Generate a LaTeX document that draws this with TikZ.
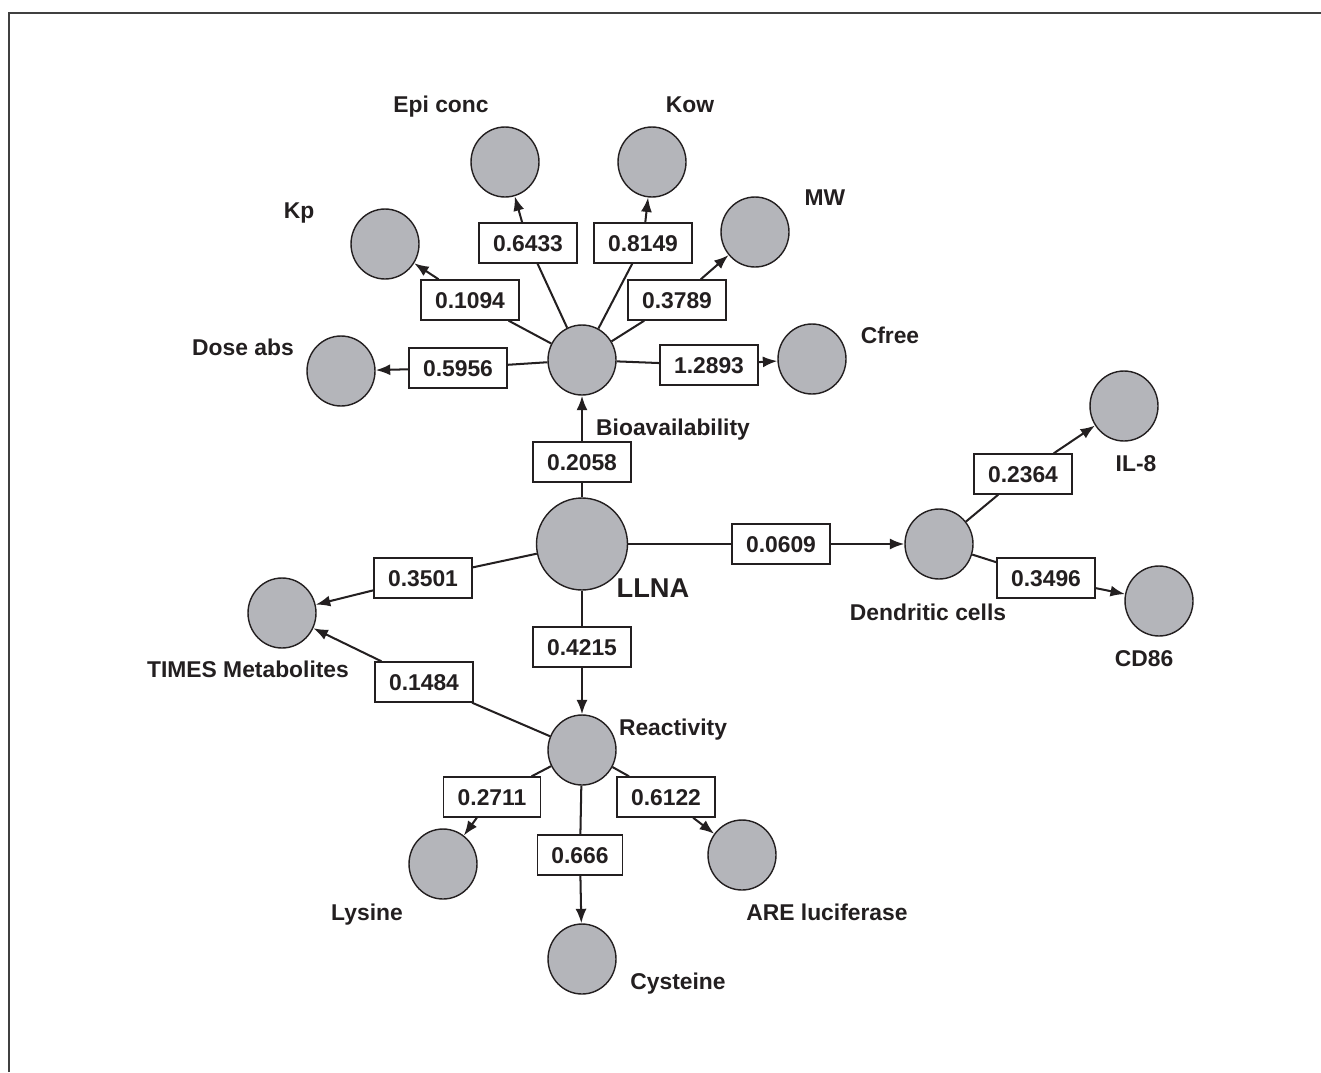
\documentclass[tikz,border=0pt]{standalone}
\usepackage{fontspec}
\setmainfont{Liberation Sans}
\usepackage{tikz}
\usetikzlibrary{arrows.meta, shapes.geometric}
\definecolor{nodegray}{RGB}{180,181,186}
\definecolor{ink}{RGB}{35,31,32}
\tikzset{
        x=0.02cm, y=-0.02cm, % one unit = one pixel of the layout
        every node/.append style={text=ink},
    }
\tikzstyle{vertex}=[draw=ink,fill=nodegray,ellipse,line width=0.8pt,minimum width=1.36cm,minimum height=1.40cm,inner sep=0pt]
\tikzstyle{hub}=[vertex,minimum width=1.82cm,minimum height=1.84cm]
\tikzstyle{weight}=[draw=ink,fill=white,line width=0.8pt,minimum height=0.8cm,inner xsep=0.28cm,inner ysep=0pt,text height=9.3pt,text depth=0pt,font=\fontsize{13}{15}\selectfont\bfseries]
\tikzstyle{caption}=[inner sep=0pt,text height=9.3pt,text depth=0pt,font=\fontsize{13}{15}\selectfont\bfseries]
\tikzstyle{link}=[draw=ink,line width=1.15pt]
\tikzstyle{flow}=[link,-{Latex[length=0.29cm,width=0.22cm]}]

\begin{document}
\begin{tikzpicture}
    \useasboundingbox (0,0) rectangle (1321,1072);
    \draw[line width=1.2pt, draw=black!75] (9,1072) -- (9,13) -- (1321,13);

    % variables
    \node[vertex] (epi)   at (505,162) {};
    \node[vertex] (kow)   at (652,162) {};
    \node[vertex] (kp)    at (385,244) {};
    \node[vertex] (mw)    at (755,232) {};
    \node[vertex] (dose)  at (341,371) {};
    \node[vertex] (bio)   at (582,360) {};
    \node[vertex] (cfree) at (812,359) {};
    \node[hub]    (llna)  at (582,544) {};
    \node[vertex] (times) at (282,613) {};
    \node[vertex] (dc)    at (939,544) {};
    \node[vertex] (il8)   at (1124,406) {};
    \node[vertex] (cd86)  at (1159,601) {};
    \node[vertex] (react) at (582,750) {};
    \node[vertex] (lys)   at (443,864) {};
    \node[vertex] (cys)   at (582,959) {};
    \node[vertex] (are)   at (742,855) {};

    % names
    \node[caption] (l-epi)   at (441,104)  {Epi conc};
    \node[caption] (l-kow)   at (690,104)  {Kow};
    \node[caption] (l-kp)    at (299,210)  {Kp};
    \node[caption] (l-mw)    at (825,197)  {MW};
    \node[caption] (l-dose)  at (243,347)  {Dose abs};
    \node[caption] (l-cfree) at (890,335)  {Cfree};
    \node[caption] (l-bio)   at (673,427)  {Bioavailability};
    \node[caption,text height=11.1pt,font=\fontsize{15.5}{18}\selectfont\bfseries] (l-llna) at (653,588) {LLNA};
    \node[caption] (l-times) at (248,669)  {TIMES Metabolites};
    \node[caption] (l-dc)    at (928,612)  {Dendritic cells};
    \node[caption] (l-il8)   at (1136,463) {IL-8};
    \node[caption] (l-cd86)  at (1144,658) {CD86};
    \node[caption] (l-react) at (673,727)  {Reactivity};
    \node[caption] (l-lys)   at (367,912)  {Lysine};
    \node[caption] (l-cys)   at (678,981)  {Cysteine};
    \node[caption] (l-are)   at (827,912)  {ARE luciferase};

    % path coefficients
    \node[weight] (w-epi)   at (528,243)  {0.6433};
    \node[weight] (w-kow)   at (643,243)  {0.8149};
    \node[weight] (w-kp)    at (470,300)  {0.1094};
    \node[weight] (w-mw)    at (677,300)  {0.3789};
    \node[weight] (w-dose)  at (458,368)  {0.5956};
    \node[weight] (w-cfree) at (709,365)  {1.2893};
    \node[weight] (w-bio)   at (582,462)  {0.2058};
    \node[weight] (w-times) at (423,578)  {0.3501};
    \node[weight] (w-dc)    at (781,544)  {0.0609};
    \node[weight] (w-il8)   at (1023,474) {0.2364};
    \node[weight] (w-cd86)  at (1046,578) {0.3496};
    \node[weight] (w-react) at (582,647)  {0.4215};
    \node[weight] (w-mt)    at (424,682)  {0.1484};
    \node[weight] (w-lys)   at (492,797)  {0.2711};
    \node[weight] (w-are)   at (666,797)  {0.6122};
    \node[weight] (w-cys)   at (580,855)  {0.666};

    \foreach \src/\wt/\dst in {bio/w-epi/epi, bio/w-kow/kow, bio/w-kp/kp, bio/w-mw/mw,
        bio/w-dose/dose, bio/w-cfree/cfree, llna/w-bio/bio, llna/w-times/times,
        llna/w-dc/dc, dc/w-il8/il8, dc/w-cd86/cd86, llna/w-react/react,
        react/w-mt/times, react/w-lys/lys, react/w-are/are, react/w-cys/cys}
    {
        \draw[link] (\src) -- (\wt);
        \draw[flow] (\wt) -- (\dst);
    }
\end{tikzpicture}
\end{document}
